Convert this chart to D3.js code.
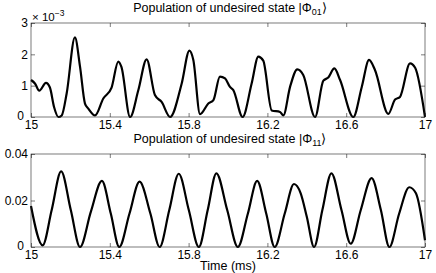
<!DOCTYPE html>
<html>
<head>
<meta charset="utf-8">
<script src="https://cdn.jsdelivr.net/npm/d3@7"></script>
<style>
  body { margin: 0; background: #fff; }
  text { font-family: "Liberation Sans", Arial, sans-serif; fill: #000; }
</style>
</head>
<body>
<div id="root"></div>
<script>
// population of |Phi01> (units of 1e-3)
const t01 = [15.000, 15.020, 15.042, 15.076, 15.096, 15.117, 15.139, 15.156, 15.181, 15.223,
  15.249, 15.274, 15.291, 15.325, 15.367, 15.409, 15.443, 15.459, 15.503, 15.545,
  15.587, 15.629, 15.663, 15.706, 15.765, 15.804, 15.824, 15.858, 15.900, 15.926,
  15.959, 15.985, 16.010, 16.027, 16.074, 16.120, 16.154, 16.179, 16.222, 16.264,
  16.281, 16.315, 16.352, 16.382, 16.442, 16.484, 16.509, 16.540, 16.569, 16.636,
  16.679, 16.716, 16.746, 16.814, 16.848, 16.873, 16.924, 16.950, 17.000];
const p01 = [1.18, 1.07, 0.84, 1.09, 0.94, 0.32, 0.00, 0.05, 0.75, 2.54,
  1.60, 0.43, 0.27, 0.05, 0.59, 0.94, 1.77, 1.60, 0.00, 0.86,
  1.84, 0.70, 0.48, 0.00, 1.07, 2.12, 1.82, 0.09, 0.43, 0.54,
  1.29, 1.23, 0.96, 0.86, 0.00, 1.07, 1.93, 1.80, 0.21, 0.16,
  0.05, 0.96, 1.52, 1.34, 0.00, 1.16, 1.26, 1.55, 1.18, 0.00,
  0.96, 1.82, 1.50, 0.10, 0.56, 0.64, 1.71, 1.57, 0.00];

// population of |Phi11> (units of 0.01)
const t11 = [15.000, 15.059, 15.105, 15.153, 15.202, 15.249, 15.304, 15.360, 15.405, 15.448,
  15.500, 15.551, 15.606, 15.653, 15.702, 15.750, 15.801, 15.852, 15.897, 15.941,
  15.996, 16.050, 16.101, 16.148, 16.194, 16.237, 16.288, 16.335, 16.369, 16.400,
  16.437, 16.479, 16.525, 16.576, 16.623, 16.674, 16.729, 16.776, 16.819, 16.869,
  16.920, 16.954, 17.000];
const p11 = [1.76, 0.07, 1.59, 3.25, 1.59, 0.00, 1.52, 2.84, 1.44, 0.00,
  1.44, 2.81, 1.44, 0.00, 1.59, 3.15, 1.59, 0.00, 1.59, 3.17,
  1.59, 0.00, 1.44, 2.84, 1.44, 0.00, 1.44, 2.71, 2.31, 1.30,
  0.00, 1.59, 3.17, 1.59, 0.14, 1.59, 2.96, 1.59, 0.00, 1.44,
  2.57, 2.31, 0.29];

const xTicks = [15, 15.4, 15.8, 16.2, 16.6, 17];
const yTicks01 = [0, 1, 2, 3];
const yTicks11 = [0, 0.02, 0.04];

const width = 436;
const height = 273;

var svg = d3.select("#root").append("svg")
  .attr("width", width)
  .attr("height", height);

function drawPanel(cfg) {
  var x = d3.scaleLinear().domain([15, 17]).range([31, 425]);
  var y = d3.scaleLinear().domain(cfg.domain).range([cfg.bottom, cfg.top]);
  var g = svg.append("g");

  var line = d3.line()
    .x(d => x(d[0]))
    .y(d => y(d[1]))
    .curve(d3.curveMonotoneX);

  g.append("path")
    .datum(cfg.t.map((t, i) => [t, cfg.v[i] * cfg.unit]))
    .attr("d", line)
    .attr("fill", "none")
    .attr("stroke", "#000")
    .attr("stroke-width", 2.2)
    .attr("stroke-linejoin", "round");

  // box + inward ticks, matlab style
  var tl = 4;
  var axes = [
    d3.axisBottom(x).tickValues(xTicks).tickSize(tl).tickFormat(d3.format("")),
    d3.axisTop(x).tickValues(xTicks).tickSize(tl).tickFormat(""),
    d3.axisLeft(y).tickValues(cfg.ticks).tickSize(tl).tickFormat(cfg.fmt),
    d3.axisRight(y).tickValues(cfg.ticks).tickSize(tl).tickFormat("")
  ];
  var pos = ["translate(0," + cfg.bottom + ")", "translate(0," + cfg.top + ")",
    "translate(31,0)", "translate(425,0)"];
  axes.forEach((a, i) => {
    var ag = g.append("g").attr("transform", pos[i]).call(a);
    ag.select(".domain").remove();
    ag.selectAll(".tick line").attr("stroke", "#222").attr("stroke-width", 0.6);
    if (i == 0) ag.selectAll(".tick line").attr("y2", -tl);
    if (i == 1) ag.selectAll(".tick line").attr("y2", tl);
    if (i == 2) ag.selectAll(".tick line").attr("x2", tl);
    if (i == 3) ag.selectAll(".tick line").attr("x2", -tl);
    ag.selectAll(".tick text").attr("font-size", 12)
      .attr("font-family", "Liberation Sans, Arial, sans-serif").attr("fill", "#000");
    if (i == 0) ag.selectAll(".tick text").attr("y", 3).attr("dy", "0.71em");
    // the "0" sits left of the first x label, like matlab does
    if (i == 2) ag.selectAll(".tick text").attr("x", d => d == 0 ? -7 : -3)
      .attr("dy", d => d == 0 ? "0.2em" : "0.32em");
  });

  g.append("rect")
    .attr("x", 31).attr("y", cfg.top)
    .attr("width", 394).attr("height", cfg.bottom - cfg.top)
    .attr("fill", "none").attr("stroke", "#222").attr("stroke-width", 0.6);

  var title = g.append("text")
    .attr("x", 230).attr("y", cfg.top - 11.5)
    .attr("text-anchor", "middle")
    .attr("font-size", 12.5);
  title.append("tspan").text("Population of undesired state |\u03A6");
  title.append("tspan").attr("font-size", 9).attr("dy", 3).text(cfg.sub);
  title.append("tspan").attr("dy", -3).text("\u27E9");
}

drawPanel({ t: t01, v: p01, unit: 1, domain: [0, 3], top: 23, bottom: 117,
  ticks: yTicks01, fmt: d3.format("d"), sub: "01" });
drawPanel({ t: t11, v: p11, unit: 0.01, domain: [0, 0.04], top: 154, bottom: 247,
  ticks: yTicks11, fmt: d => d == 0 ? "0" : d3.format(".2f")(d), sub: "11" });

var expo = svg.append("text").attr("x", 32).attr("y", 21).attr("font-size", 11.5);
expo.append("tspan").text("\u00D7 10");
expo.append("tspan").attr("font-size", 8.5).attr("dy", -5).text("\u22123");

svg.append("text")
  .attr("x", 228).attr("y", 270)
  .attr("text-anchor", "middle")
  .attr("font-size", 12.5)
  .text("Time (ms)");
</script>
</body>
</html>
